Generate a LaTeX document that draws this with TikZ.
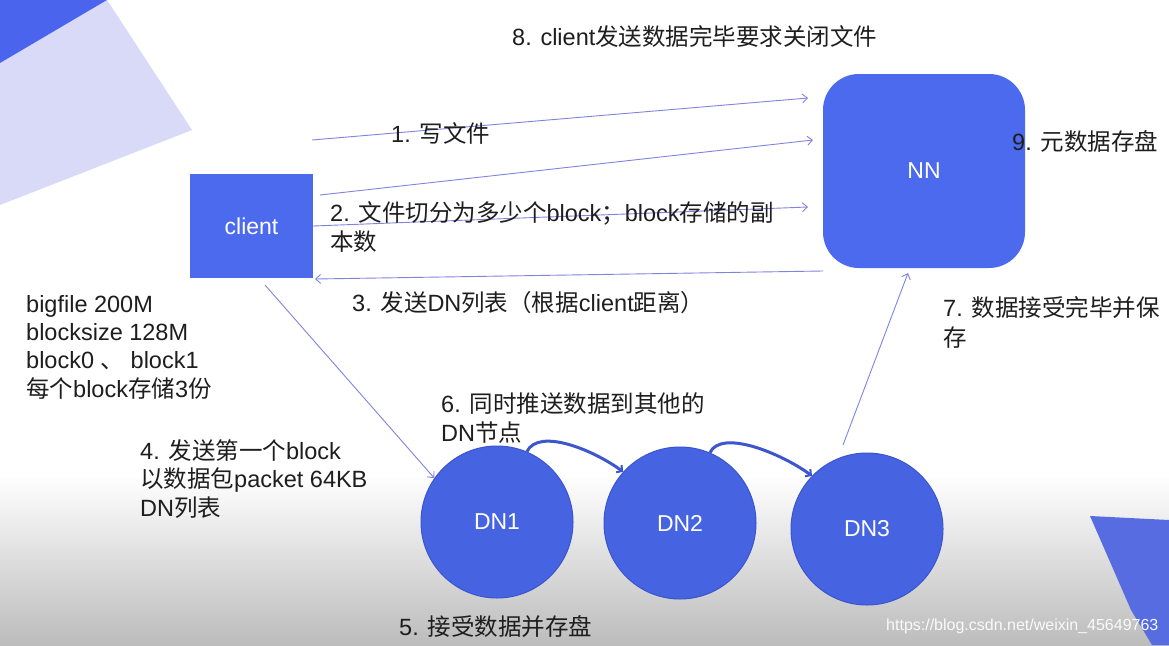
\documentclass[tikz,border=0pt]{standalone}
\usepackage{fontspec}
\setmainfont{Liberation Sans}
\newfontfamily\cjkfont{Noto Sans CJK SC}
\newcommand\zh[1]{{\cjkfont #1}}
\usetikzlibrary{arrows.meta}
\definecolor{nodeblue}{RGB}{76,106,238}
\definecolor{dnblue}{RGB}{70,100,226}
\definecolor{dnborder}{RGB}{58,84,205}
\definecolor{arrowc}{RGB}{128,132,222}
\definecolor{curvec}{RGB}{62,86,205}
\definecolor{decodark}{RGB}{74,100,238}
\definecolor{decolight}{RGB}{216,218,247}
\definecolor{decobr}{RGB}{88,108,226}
\definecolor{txt}{RGB}{30,30,30}
\definecolor{shadegray}{RGB}{188,188,188}
\tikzset{
  lbl/.style={anchor=base west, inner sep=0pt, text=txt, align=left, font=\fontsize{23.5}{28.3}\selectfont},
  boxnode/.style={fill=nodeblue, draw=none, text=white, inner sep=0pt, font=\fontsize{23}{28}\selectfont},
  dnnode/.style={circle, fill=dnblue, draw=dnborder, line width=1pt, minimum size=152pt, inner sep=0pt, text=white, font=\fontsize{23}{28}\selectfont},
  thin arrow/.style={draw=arrowc, line width=0.9pt, -{Straight Barb[length=5pt,width=9pt]}},
  push arrow/.style={draw=curvec, line width=3pt, -{Straight Barb[length=4pt,width=9pt,line width=2pt]}}
}
\begin{document}
\begin{tikzpicture}[x=1pt,y=-1pt]
\useasboundingbox (0,0) rectangle (1169,645);
\fill[white] (0,0) rectangle (1169,645);
% bottom gradient
\shade[top color=white, bottom color=shadegray] (0,475) rectangle (1169,645);
% decorations
\fill[decolight] (107,0) -- (192,130) -- (0,205) -- (0,63) -- cycle;
\fill[decodark] (0,0) -- (107,0) -- (0,63) -- cycle;
\fill[decobr] (1090,516) -- (1169,520) -- (1169,645) -- (1152,645) -- (1131,610) -- cycle;

% nodes
\node[boxnode, minimum width=123pt, minimum height=104pt] (client) at (251.5,226) {client};
\node[boxnode, rounded corners=36pt, minimum width=202pt, minimum height=194pt] (NN) at (924,171) {NN};
\node[dnnode] (DN1) at (497,522) {DN1};
\node[dnnode] (DN2) at (680,523) {DN2};
\node[dnnode] (DN3) at (867,529) {DN3};

% connector end points
\coordinate (a1s) at (312,140);
\coordinate (a1e) at (808,98);
\coordinate (a2s) at (320,195);
\coordinate (a2e) at (813,140);
\coordinate (a3e) at (808,207);
\coordinate (a4s) at (823,271);
\coordinate (a4e) at (315,279);
\coordinate (a5s) at (265,285);
\coordinate (a7s) at (843,445);
\coordinate (a7e) at (908,273);

\draw[thin arrow] (a1s) -- (a1e);
\draw[thin arrow] (a2s) -- (a2e);
\draw[thin arrow] (client.east) -- (a3e);
\draw[thin arrow] (a4s) -- (a4e);
\draw[thin arrow] (a5s) -- (DN1.145);
\draw[thin arrow] (a7s) -- (a7e);

\draw[push arrow] (DN1.67) .. controls +(12,-24) and +(-30,-22) .. (DN2.138);
\draw[push arrow] (DN2.67) .. controls +(12,-24) and +(-30,-22) .. (DN3.136);

% labels (base anchor = baseline of the last line)
\node[lbl] (l8) at (512,45) {8. client\zh{发送数据完毕要求关闭文件}};
\node[lbl] (l1) at (391,142) {1. \zh{写文件}};
\node[lbl] (l9) at (1012,150) {9. \zh{元数据存盘}};
\node[lbl, font=\fontsize{23.5}{29}\selectfont] (l2) at (330,250) {2. \zh{文件切分为多少个}block\zh{；}block\zh{存储的副}\\\zh{本数}};
\node[lbl] (l3) at (352,311) {3. \zh{发送}DN\zh{列表（根据}client\zh{距离）}};
\node[lbl] (linfo) at (26,397) {bigfile 200M\\blocksize 128M\\block0 \zh{、} block1\\\zh{每个}block\zh{存储}3\zh{份}};
\node[lbl, font=\fontsize{23.5}{30}\selectfont] (l7) at (943,346) {7. \zh{数据接受完毕并保}\\\zh{存}};
\node[lbl] (l6) at (441,441) {6. \zh{同时推送数据到其他的}\\DN\zh{节点}};
\node[lbl] (l4) at (140,516) {4. \zh{发送第一个}block\\\zh{以数据包}packet 64KB\\DN\zh{列表}};
\node[lbl] (l5) at (399,635) {5. \zh{接受数据并存盘}};
\node[anchor=base west, inner sep=0pt, text=white!96!gray, font=\fontsize{16}{18}\selectfont] (wm) at (886,630) {https://blog.csdn.net/weixin\_45649763};
\end{tikzpicture}
\end{document}
